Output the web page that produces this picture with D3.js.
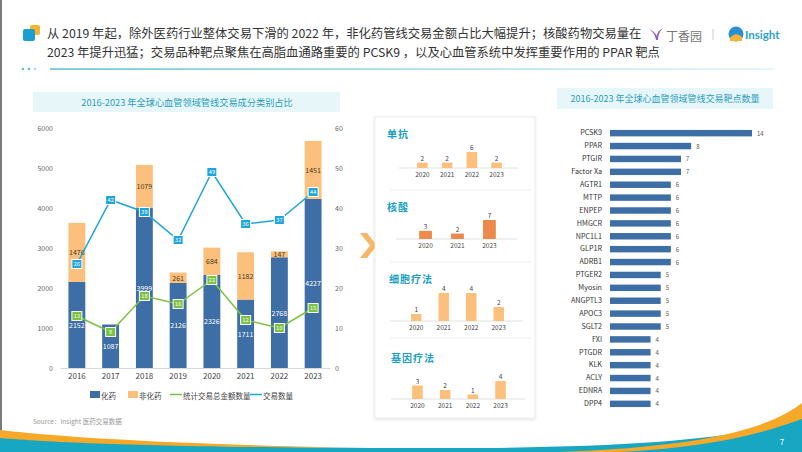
<!DOCTYPE html>
<html><head><meta charset="utf-8">
<script src="https://cdn.jsdelivr.net/npm/d3@7"></script>
<style>
html,body{margin:0;padding:0;background:#fff;}
svg{display:block;font-family:"Noto Sans CJK SC","Noto Sans",sans-serif;}
</style></head>
<body>
<svg id="c" width="802" height="452"></svg>
<script>
// ---------- data ----------
const titleLine1 = "从 2019 年起，除外医药行业整体交易下滑的 2022 年，非化药管线交易金额占比大幅提升；核酸药物交易量在";
const titleLine2 = "2023 年提升迅猛；交易品种靶点聚焦在高脂血通路重要的 PCSK9 ，以及心血管系统中发挥重要作用的 PPAR 靶点";
const leftTitle = "2016-2023 年全球心血管领域管线交易成分类别占比";
const rightTitle = "2016-2023 年全球心血管领域管线交易靶点数量";

const years = ["2016","2017","2018","2019","2020","2021","2022","2023"];
const chemValues = [2152,1087,3999,2126,2326,1711,2768,4227];
const nonChemValues = [1476,0,1079,261,684,1182,147,1451];
const totalAmountCount = [13,9,18,16,22,12,10,15];
const dealCount = [26,42,39,32,49,36,37,44];
const leftTicks = [0,1000,2000,3000,4000,5000,6000];
const rightTicks = [0,10,20,30,40,50,60];
const legendNames = ["化药","非化药","统计交易总金额数量","交易数量"];

const mabYears = ["2020","2021","2022","2023"];
const mabValues = [2,2,6,2];
const nucleicYears = ["2020","2021","2023"];
const nucleicValues = [3,2,7];
const cellYears = ["2020","2021","2022","2023"];
const cellValues = [1,4,4,2];
const geneYears = ["2020","2021","2022","2023"];
const geneValues = [3,2,1,4];

const targets = ["PCSK9","PPAR","PTGIR","Factor Xa","AGTR1","MTTP","ENPEP","HMGCR","NPC1L1","GLP1R","ADRB1","PTGER2","Myosin","ANGPTL3","APOC3","SGLT2","FXI","PTGDR","KLK","ACLY","EDNRA","DPP4"];
const targetValues = [14,8,7,7,6,6,6,6,6,6,6,5,5,5,5,5,4,4,4,4,4,4];

// ---------- styles ----------
const C = {blue:"#3e6ea6", orange:"#fcc07c", green:"#7cc242", line:"#1ea6dc", teal:"#1aa0c4", dark:"#333", grey:"#666", nucleic:"#ec8a4e"};

const svg = d3.select("#c");

const defs = svg.append("defs");
const lg = defs.append("linearGradient").attr("id","sep").attr("x1","0").attr("x2","1");
lg.append("stop").attr("offset","0").attr("stop-color","#5fc3d3");
lg.append("stop").attr("offset","1").attr("stop-color","#e3f5f8");
const sh = defs.append("filter").attr("id","shadow").attr("x","-10%").attr("y","-10%").attr("width","120%").attr("height","120%");
sh.append("feDropShadow").attr("dx",0).attr("dy",1).attr("stdDeviation",1.5).attr("flood-color","#000").attr("flood-opacity",0.12);

svg.append("rect").attr("x",0).attr("y",0).attr("width",2).attr("height",452).attr("fill","#7a7a7a");

// header icon
svg.append("rect").attr("x",30).attr("y",25).attr("width",10).attr("height",10).attr("rx",2).attr("fill","#f7b52c");
svg.append("rect").attr("x",23).attr("y",29).attr("width",12).attr("height",12).attr("rx",2).attr("fill","#1c9fd0");

// header text
const head = svg.append("g").attr("font-size",12.3).attr("fill","#333");
head.append("text").attr("x",47).attr("y",33).attr("dominant-baseline","central").text(titleLine1);
head.append("text").attr("x",47).attr("y",52).attr("dominant-baseline","central").text(titleLine2);

// logos
svg.append("path").attr("d","M649,29 Q655,33 656,40 L658,40 Q658,33 663,28 Q657,31 657,36 Q654,31 649,29 Z").attr("fill","#8d5fc0");
svg.append("text").attr("x",666).attr("y",35).attr("dominant-baseline","central").attr("font-size",12).attr("fill","#777").text("丁香园");
svg.append("line").attr("x1",713).attr("x2",713).attr("y1",29).attr("y2",40).attr("stroke","#ccc");
svg.append("circle").attr("cx",736).attr("cy",34).attr("r",7.5).attr("fill","#2a8fd0");
svg.append("path").attr("d","M730,38 Q736,31 742,37 L742,41 L730,41 Z").attr("fill","#f5b431");
svg.append("text").attr("x",745).attr("y",34).attr("dominant-baseline","central").attr("font-size",11.5).attr("font-weight","bold").attr("fill","#2aa3c8").attr("font-family","Lato, 'Open Sans', sans-serif").text("Insight");

// separator
[23,29,35].forEach((x,i)=>svg.append("circle").attr("cx",x).attr("cy",69).attr("r",1.3).attr("fill",i<2?"#5fc3d3":"#a9dde6"));
svg.append("rect").attr("x",50).attr("y",68.3).attr("width",725).attr("height",1.6).attr("fill","url(#sep)");

// bottom waves
svg.append("path").attr("d","M0,437 C100,445 260,448 450,448 C620,448 740,440 802,418 L802,452 L0,452 Z").attr("fill","#17a7c3");
svg.append("path").attr("d","M0,430 C60,437 160,443 300,446.5 L360,448 C160,447 60,443 0,438 Z").attr("fill","#f6a829");
svg.append("path").attr("d","M560,452 C680,447 760,435 802,403 L802,419 C745,440 690,448 620,452 Z").attr("fill","#f6a829");
svg.append("text").attr("x",782).attr("y",441).attr("dominant-baseline","central").attr("text-anchor","middle").attr("font-size",8).attr("fill","#fff").text("7");

// ---------- left chart ----------
svg.append("rect").attr("x",33).attr("y",92).attr("width",307).attr("height",20).attr("fill","#e7f6f9");
svg.append("text").attr("x",187).attr("y",102).attr("text-anchor","middle").attr("dominant-baseline","central").attr("font-size",9.2).attr("fill","#2a9ebf").text(leftTitle);

const x = d3.scaleBand().domain(years).range([60,330]).paddingInner(0.5).paddingOuter(0.25);
const yL = d3.scaleLinear().domain([0,6000]).range([368,128]);
const yR = d3.scaleLinear().domain([0,60]).range([368,128]);

const axL = svg.append("g").attr("transform","translate(56,0)").call(d3.axisLeft(yL).tickValues(leftTicks).tickFormat(d3.format("d")).tickSize(0).tickPadding(3));
const axR = svg.append("g").attr("transform","translate(332,0)").call(d3.axisRight(yR).tickValues(rightTicks).tickFormat(d3.format("d")).tickSize(0).tickPadding(3));
[axL,axR].forEach(a=>{a.select(".domain").remove();a.selectAll("text").attr("font-size",7).attr("fill","#666").attr("font-family","'Noto Sans CJK SC',sans-serif");});
const axX = svg.append("g").attr("transform","translate(0,368)").call(d3.axisBottom(x).tickSize(0).tickPadding(5));
axX.select(".domain").attr("stroke","#d9d9d9");
axX.selectAll("text").attr("font-size",8).attr("fill","#444").attr("font-family","'Noto Sans CJK SC',sans-serif");

const rows = years.map((y,i)=>({year:y, chem:chemValues[i], non:nonChemValues[i]}));
const stack = d3.stack().keys(["chem","non"])(rows);
const colors = {chem:C.blue, non:C.orange};
stack.forEach(layer=>{
  const g = svg.append("g");
  g.selectAll("rect").data(layer).join("rect")
    .attr("x",d=>x(d.data.year)).attr("width",x.bandwidth())
    .attr("y",d=>yL(d[1])).attr("height",d=>yL(d[0])-yL(d[1]))
    .attr("fill",colors[layer.key]);
  g.selectAll("text").data(layer.filter(d=>d[1]-d[0]>0)).join("text")
    .attr("x",d=>x(d.data.year)+x.bandwidth()/2).attr("y",d=>yL((d[0]+d[1])/2))
    .attr("text-anchor","middle").attr("dominant-baseline","central").attr("font-size",7)
    .attr("fill",layer.key==="chem"?"#fff":"#4a3a20").text(d=>d[1]-d[0]);
});

function drawLine(vals,color){
  const pts = years.map((y,i)=>[x(y)+x.bandwidth()/2, yR(vals[i]), vals[i]]);
  svg.append("path").attr("d",d3.line()(pts.map(p=>[p[0],p[1]]))).attr("fill","none").attr("stroke",color).attr("stroke-width",1.5);
  const g = svg.append("g").selectAll("g").data(pts).join("g").attr("transform",p=>`translate(${p[0]},${p[1]})`);
  g.append("rect").attr("x",-5).attr("y",-4.5).attr("width",10).attr("height",9).attr("fill",color).attr("stroke","#fff").attr("stroke-width",1);
  g.append("text").attr("text-anchor","middle").attr("dominant-baseline","central").attr("font-size",5.5).attr("fill","#fff").text(p=>p[2]);
}
drawLine(totalAmountCount,C.green);
drawLine(dealCount,C.line);

// legend
const leg = svg.append("g").attr("font-size",7.5).attr("fill","#444");
const legX = [90,128,170,250];
legendNames.forEach((n,i)=>{
  const gx = legX[i];
  if(i<2) leg.append("rect").attr("x",gx).attr("y",391).attr("width",10).attr("height",7).attr("fill",i===0?C.blue:C.orange);
  else leg.append("line").attr("x1",gx).attr("x2",gx+12).attr("y1",394.5).attr("y2",394.5).attr("stroke",i===2?C.green:C.line).attr("stroke-width",1.5);
  leg.append("text").attr("x",gx+(i<2?11:13)).attr("y",395).attr("dominant-baseline","central").text(n);
});

svg.append("text").attr("x",33).attr("y",421).attr("dominant-baseline","central").attr("font-size",6.5).attr("fill","#999").text("Source：Insight 医药交易数据");

// ---------- middle panels ----------
svg.append("path").attr("d","M360,233 L367,233 L377,245.5 L367,258 L360,258 L370,245.5 Z").attr("fill","#f9b765");
svg.append("rect").attr("x",375).attr("y",117).attr("width",160).attr("height",301).attr("fill","#fff").attr("stroke","#ececec").attr("filter","url(#shadow)");
[190,262,338].forEach(y=>svg.append("line").attr("x1",390).attr("x2",532).attr("y1",y).attr("y2",y).attr("stroke","#eeeeee"));

const panels = [
  {title:"单抗", tx:387, ty:133, cats:mabYears, vals:mabValues, range:[403,516], pad:0.57, base:168, h:16, color:C.orange},
  {title:"核酸", tx:387, ty:206, cats:nucleicYears, vals:nucleicValues, range:[400,515], pad:0.6, base:239, h:19, color:C.nucleic},
  {title:"细胞疗法", tx:389, ty:278, cats:cellYears, vals:cellValues, range:[394,521], pad:0.62, base:321, h:28, color:C.orange},
  {title:"基因疗法", tx:391, ty:357, cats:geneYears, vals:geneValues, range:[395,523], pad:0.62, base:399, h:18, color:C.orange}
];
panels.forEach(p=>{
  svg.append("text").attr("x",p.tx).attr("y",p.ty).attr("dominant-baseline","central").attr("font-size",10).attr("font-weight","bold").attr("letter-spacing",1).attr("fill",C.teal).text(p.title);
  const px = d3.scaleBand().domain(p.cats).range(p.range).padding(p.pad);
  const py = d3.scaleLinear().domain([0,d3.max(p.vals)]).range([p.base,p.base-p.h]);
  const ax = svg.append("g").attr("transform",`translate(0,${p.base})`).call(d3.axisBottom(px).tickSize(0).tickPadding(4));
  ax.select(".domain").attr("stroke","#e2e2e2").attr("d",`M${p.range[0]-4},0H${p.range[1]+2}`);
  ax.selectAll("text").attr("font-size",6.5).attr("fill","#444").attr("font-family","'Noto Sans CJK SC',sans-serif");
  const data = p.cats.map((c,i)=>({c,v:p.vals[i]}));
  svg.append("g").selectAll("rect").data(data).join("rect")
    .attr("x",d=>px(d.c)).attr("width",px.bandwidth()).attr("y",d=>py(d.v)).attr("height",d=>p.base-py(d.v)).attr("fill",p.color);
  svg.append("g").selectAll("text").data(data).join("text")
    .attr("x",d=>px(d.c)+px.bandwidth()/2).attr("y",d=>py(d.v)-5).attr("text-anchor","middle").attr("dominant-baseline","central")
    .attr("font-size",6.5).attr("fill","#444").text(d=>d.v);
});

// ---------- right chart ----------
svg.append("rect").attr("x",557).attr("y",88).attr("width",216).attr("height",21).attr("fill","#e7f6f9");
svg.append("text").attr("x",665).attr("y",98.5).attr("text-anchor","middle").attr("dominant-baseline","central").attr("font-size",9).attr("fill","#2a9ebf").text(rightTitle);

const ty = d3.scaleBand().domain(targets).range([123.5,413.5]).padding(0.5);
const tx = d3.scaleLinear().domain([0,14]).range([610,752]);
const axT = svg.append("g").attr("transform","translate(606,0)").call(d3.axisLeft(ty).tickSize(0).tickPadding(4));
axT.select(".domain").remove();
axT.selectAll("text").attr("font-size",7.2).attr("fill","#333").attr("font-family","'Noto Sans CJK SC',sans-serif");
const tdata = targets.map((t,i)=>({t,v:targetValues[i]}));
svg.append("g").selectAll("rect").data(tdata).join("rect")
  .attr("x",tx(0)).attr("y",d=>ty(d.t)).attr("height",ty.bandwidth()).attr("width",d=>tx(d.v)-tx(0)).attr("fill",C.blue);
svg.append("g").selectAll("text").data(tdata).join("text")
  .attr("x",d=>tx(d.v)+5).attr("y",d=>ty(d.t)+ty.bandwidth()/2).attr("dominant-baseline","central")
  .attr("font-size",6).attr("fill","#555").text(d=>d.v);
</script>
</body></html>
